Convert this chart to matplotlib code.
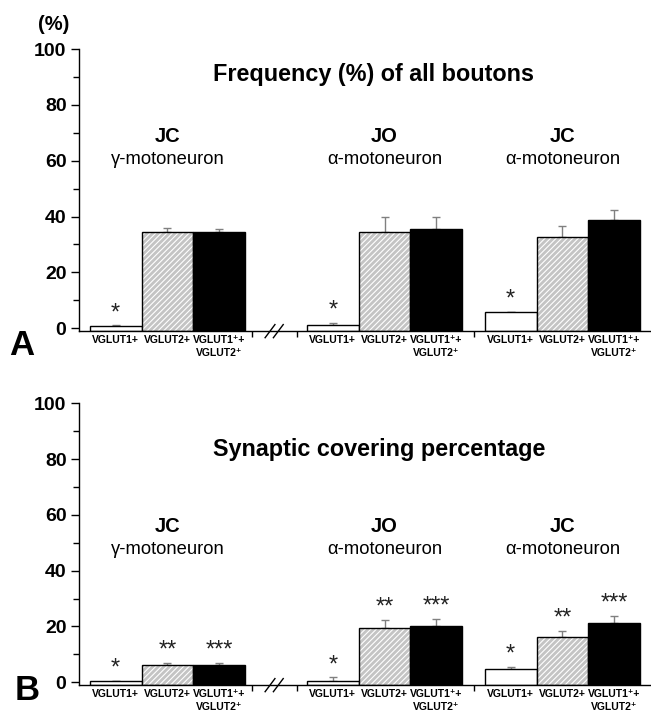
import numpy as np
import matplotlib
matplotlib.use("Agg")
import matplotlib.pyplot as plt

plt.rcParams['font.family'] = ['Liberation Sans', 'DejaVu Sans']
plt.rcParams['hatch.linewidth'] = 0.8

# data
categories = ["VGLUT1+", "VGLUT2+", "VGLUT1\u207a+\nVGLUT2\u207a"]
group_names = ["JC", "JO", "JC"]
group_cells = ["\u03b3-motoneuron", "\u03b1-motoneuron", "\u03b1-motoneuron"]

freq_mean = [[0.7, 34.3, 34.6], [1.0, 34.5, 35.6], [5.8, 32.7, 38.7]]
freq_err = [[0.3, 1.7, 1.0], [1.0, 5.4, 4.3], [0.1, 4.0, 3.8]]
freq_stars = [["*", "", ""], ["*", "", ""], ["*", "", ""]]

cover_mean = [[0.4, 6.2, 6.2], [0.6, 19.4, 20.2], [4.8, 16.3, 21.4]]
cover_err = [[0.0, 0.6, 0.6], [1.1, 2.9, 2.5], [0.6, 2.0, 2.3]]
cover_stars = [["*", "**", "***"], ["*", "**", "***"], ["*", "**", "***"]]

# layout (x in bar-width units)
group_left = [0.21, 4.41, 7.85]
break_ticks = [3.35, 4.22, 7.64]
ybot = -1.0

fig = plt.figure(figsize=(6.51, 7.16), dpi=100)
W, H = 651.0, 716.0
axA = fig.add_axes([79 / W, 1 - 331 / H, (W - 79) / W, (331 - 49) / H])
axB = fig.add_axes([79 / W, 1 - 685 / H, (W - 79) / W, (685 - 403.3) / H])


def panel(ax, means, errs, stars, title, title_xy, name_y, cell_y):
    centers = []
    labels = []
    for g in range(3):
        xs = group_left[g] + 0.5 + np.arange(3)
        m = np.array(means[g])
        e = np.array(errs[g])
        # white bar
        ax.bar(xs[0], m[0] - ybot, bottom=ybot, width=1.0, color='white',
               edgecolor='black', linewidth=1.0, zorder=2)
        # hatched bar
        ax.bar(xs[1], m[1] - ybot, bottom=ybot, width=1.0, color='#c4c4c4',
               edgecolor='white', hatch='//////', linewidth=0, zorder=2)
        ax.bar(xs[1], m[1] - ybot, bottom=ybot, width=1.0, fill=False,
               edgecolor='black', linewidth=1.0, zorder=3)
        # black bar
        ax.bar(xs[2], m[2] - ybot, bottom=ybot, width=1.0, color='black',
               edgecolor='black', linewidth=1.0, zorder=2)
        ax.errorbar(xs, m, yerr=[np.zeros(3), e], fmt='none', ecolor='#808080',
                    elinewidth=1.0, capsize=3, capthick=1.0, zorder=1)
        for i in range(3):
            if stars[g][i]:
                ax.text(xs[i], m[i] + e[i] + 4.4, stars[g][i], ha='center',
                        va='center', fontsize=17, color='#222222')
        ax.text(xs[1], name_y, group_names[g], ha='center', va='center',
                fontsize=14.5, fontweight='bold')
        ax.text(xs[1], cell_y, group_cells[g], ha='center', va='center',
                fontsize=13.2)
        centers.extend(xs)
        labels.extend(categories)

    ax.text(title_xy[0], title_xy[1], title, ha='center', va='center',
            fontsize=16.8, fontweight='bold')

    ax.set_xlim(0, (W - 79) / 51.7)
    ax.set_ylim(ybot, 100)
    ax.spines['top'].set_visible(False)
    ax.spines['right'].set_visible(False)
    ax.spines['left'].set_linewidth(1.0)
    ax.spines['bottom'].set_linewidth(1.0)

    ax.set_yticks(np.arange(0, 101, 20))
    ax.set_yticks(np.arange(10, 100, 20), minor=True)
    ax.tick_params(axis='y', which='major', length=6, width=1.0, pad=3,
                   labelsize=14)
    ax.tick_params(axis='y', which='minor', length=4, width=1.0)
    for lab in ax.get_yticklabels():
        lab.set_fontweight('bold')

    ax.set_xticks(centers)
    ax.set_xticklabels(labels, fontsize=7.5, fontweight='bold',
                       linespacing=1.3)
    ax.set_xticks(break_ticks, minor=True)
    ax.tick_params(axis='x', which='major', length=0, pad=3)
    ax.tick_params(axis='x', which='minor', length=4, width=1.0)

    # axis break marks
    for x0 in (3.6, 3.76):
        ax.plot([x0, x0 + 0.19], [ybot - 2.4, ybot + 2.3], color='black',
                linewidth=1.0, clip_on=False, zorder=5)


panel(axA, freq_mean, freq_err, freq_stars, "Frequency (%) of all boutons",
      (5.69, 90.7), 68.6, 60.4)
panel(axB, cover_mean, cover_err, cover_stars, "Synaptic covering percentage",
      (5.8, 83.3), 55.8, 47.7)

fig.text(54 / W, 1 - 25 / H, "(%)", ha='center', va='center', fontsize=14.5,
         fontweight='bold')
fig.text(22 / W, 1 - 345 / H, "A", ha='center', va='center', fontsize=25,
         fontweight='bold')
fig.text(27 / W, 1 - 691 / H, "B", ha='center', va='center', fontsize=25,
         fontweight='bold')

fig.savefig("out.png", dpi=100)
